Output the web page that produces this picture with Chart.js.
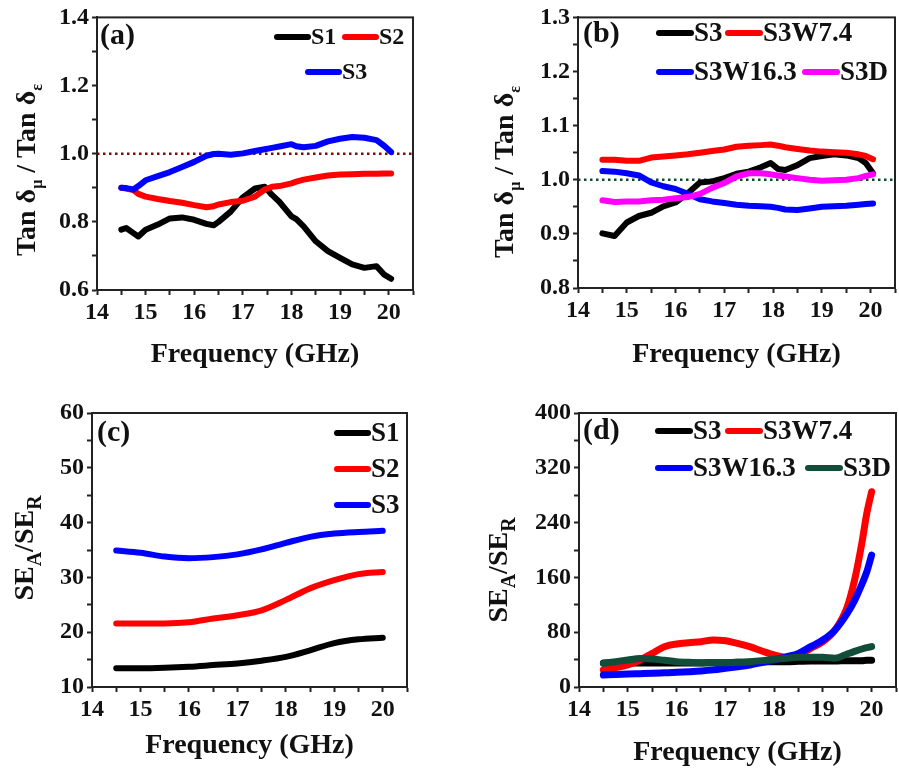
<!DOCTYPE html>
<html>
<head>
<meta charset="utf-8">
<title>Tan δμ / Tan δε y SEA/SER</title>
<script src="https://cdn.jsdelivr.net/npm/chart.js@4.4.1/dist/chart.umd.min.js"></script>
<style>
  body { margin: 0; background: #fff; }
  #figura { position: relative; width: 899px; height: 772px; }
  .panel { position: absolute; }
</style>
</head>
<body>
<div id="figura">
  <div class="panel" style="left:0;top:0"><canvas id="chartA" width="450" height="386"></canvas></div>
  <div class="panel" style="left:450px;top:0"><canvas id="chartB" width="449" height="386"></canvas></div>
  <div class="panel" style="left:0;top:386px"><canvas id="chartC" width="450" height="386"></canvas></div>
  <div class="panel" style="left:450px;top:386px"><canvas id="chartD" width="449" height="386"></canvas></div>
</div>
<script>
const fuente = "'Liberation Serif', 'Times New Roman', serif";

// (a) Tan dmu / Tan deps, muestras S1-S3
const freqA = [14.5, 14.6, 14.75, 14.85, 15.0, 15.25, 15.5, 15.75, 16.0, 16.25, 16.4, 16.5, 16.75, 17.0, 17.25, 17.45, 17.6, 17.75, 18.0, 18.1, 18.25, 18.5, 18.75, 19.0, 19.25, 19.5, 19.75, 19.9, 20.05];
const tanS1 = [0.777, 0.782, 0.767, 0.757, 0.777, 0.792, 0.810, 0.813, 0.806, 0.794, 0.790, 0.800, 0.830, 0.872, 0.898, 0.903, 0.879, 0.859, 0.816, 0.808, 0.787, 0.743, 0.714, 0.694, 0.675, 0.665, 0.670, 0.646, 0.633];
const tanS2 = [0.900, 0.898, 0.893, 0.882, 0.874, 0.867, 0.861, 0.856, 0.849, 0.843, 0.846, 0.851, 0.858, 0.862, 0.874, 0.895, 0.903, 0.905, 0.913, 0.918, 0.924, 0.930, 0.936, 0.939, 0.940, 0.941, 0.941, 0.942, 0.942];
const tanS3 = [0.900, 0.899, 0.895, 0.905, 0.922, 0.934, 0.946, 0.961, 0.976, 0.994, 0.999, 1.000, 0.997, 1.001, 1.008, 1.013, 1.017, 1.021, 1.028, 1.022, 1.019, 1.023, 1.036, 1.044, 1.049, 1.047, 1.040, 1.024, 1.005];

// (b) Tan dmu / Tan deps, S3 y variantes
const freqB = [14.5, 14.75, 15.0, 15.25, 15.5, 15.75, 16.0, 16.25, 16.5, 16.75, 17.0, 17.25, 17.5, 17.75, 17.95, 18.1, 18.25, 18.5, 18.75, 19.0, 19.25, 19.5, 19.75, 19.9, 20.05];
const tanB_S3 = [0.901, 0.896, 0.921, 0.933, 0.939, 0.951, 0.958, 0.975, 0.995, 0.997, 1.003, 1.011, 1.015, 1.023, 1.031, 1.020, 1.018, 1.027, 1.040, 1.044, 1.047, 1.045, 1.040, 1.031, 1.012];
const tanB_W74 = [1.037, 1.037, 1.035, 1.035, 1.041, 1.043, 1.045, 1.047, 1.050, 1.053, 1.056, 1.061, 1.063, 1.064, 1.065, 1.063, 1.060, 1.057, 1.054, 1.052, 1.051, 1.050, 1.047, 1.044, 1.038];
const tanB_W163 = [1.016, 1.015, 1.012, 1.008, 0.995, 0.988, 0.983, 0.974, 0.964, 0.960, 0.957, 0.954, 0.952, 0.951, 0.950, 0.948, 0.945, 0.944, 0.947, 0.950, 0.951, 0.952, 0.954, 0.955, 0.956];
const tanB_S3D = [0.962, 0.959, 0.960, 0.960, 0.962, 0.963, 0.966, 0.968, 0.974, 0.985, 0.994, 1.006, 1.012, 1.012, 1.010, 1.008, 1.006, 1.003, 1.000, 0.998, 0.999, 1.000, 1.003, 1.007, 1.010];

// (c) SEA/SER, S1-S3
const freqC = [14.5, 15.0, 15.5, 16.0, 16.5, 17.0, 17.5, 18.0, 18.5, 19.0, 19.5, 20.0];
const seS1 = [13.4, 13.4, 13.5, 13.7, 14.0, 14.3, 14.8, 15.5, 16.7, 18.0, 18.7, 19.0];
const seS2 = [21.6, 21.6, 21.6, 21.8, 22.5, 23.1, 24.0, 25.9, 28.0, 29.5, 30.6, 31.0];
const seS3 = [34.9, 34.5, 33.8, 33.5, 33.7, 34.2, 35.1, 36.3, 37.4, 38.0, 38.3, 38.5];

// (d) SEA/SER, S3 y variantes
const freqD = [14.5, 14.75, 15.0, 15.25, 15.5, 15.75, 16.0, 16.25, 16.5, 16.75, 17.0, 17.25, 17.5, 17.75, 18.0, 18.25, 18.5, 18.75, 19.0, 19.25, 19.5, 19.65, 19.8, 19.9, 20.0];
const seD_S3 = [35, 35, 35, 35, 35, 35, 35, 35, 35, 35.5, 35.5, 36, 36, 36.5, 37, 37, 37.5, 38, 38, 38, 38.5, 38.5, 38.5, 39, 39];
const seD_W74 = [24.8, 28.2, 32.1, 39.4, 49.1, 58.9, 62.8, 64.7, 66.2, 68.6, 67.6, 63.7, 58.9, 52.6, 46.7, 43.3, 46.7, 56.4, 66.2, 83.2, 117, 156, 210, 253, 285];
const seD_W163 = [17.5, 18.3, 19.0, 19.5, 20.0, 20.7, 21.4, 22.3, 23.4, 25.0, 27.2, 29.5, 32.1, 35.5, 39.4, 44.0, 49.1, 58.9, 68.6, 83.2, 107.5, 126, 150, 168, 192.7];
const seD_S3D = [34.5, 37, 39.4, 41.5, 40.9, 39, 37, 36, 35.5, 35.5, 35.5, 36, 37, 38.5, 40.4, 42, 43.3, 43.5, 43.3, 42, 48.2, 52, 55.5, 57.5, 58.9];

// linea de referencia en 1.0
const refX = [14, 20.5];
const refY = [1.0, 1.0];

const serie = (x, y) => x.map((f, i) => ({ x: f, y: y[i] }));

const curva = (label, x, y, color, i, suave, grosor) => ({
    label: label,
    data: serie(x, y),
    borderColor: color,
    backgroundColor: color,
    borderWidth: grosor || 6,
    pointRadius: 0,
    fill: false,
    tension: 0,
    cubicInterpolationMode: suave ? 'monotone' : 'default',
    borderCapStyle: 'round',
    borderJoinStyle: 'round',
    order: -i
});

const referencia = (color) => ({
    label: '',
    data: serie(refX, refY),
    borderColor: color,
    borderWidth: 2.5,
    borderDash: [2.5, 3.5],
    pointRadius: 0,
    fill: false,
    order: 10
});

const tituloY = (ctx, partes, x, y) => {
    ctx.save();
    ctx.translate(x, y);
    ctx.rotate(-Math.PI / 2);
    ctx.textAlign = 'left';
    ctx.textBaseline = 'alphabetic';
    const medir = p => {
        ctx.font = `bold ${p.size}px ${fuente}`;
        return ctx.measureText(p.t).width;
    };
    const total = partes.reduce((s, p) => s + medir(p), 0);
    let cx = -total / 2;
    partes.forEach(p => {
        const w = medir(p);
        ctx.fillText(p.t, cx, p.dy || 0);
        cx += w;
    });
    ctx.restore();
};

const decorado = {
    id: 'decorado',
    afterDraw(chart, args, opts) {
        const { ctx, chartArea: a } = chart;
        ctx.save();
        ctx.strokeStyle = '#222';
        ctx.lineWidth = 2;
        ctx.strokeRect(a.left, a.top, a.right - a.left, a.bottom - a.top);

        ctx.fillStyle = '#111';
        ctx.textAlign = 'left';
        ctx.textBaseline = 'middle';
        ctx.font = `bold 30px ${fuente}`;
        ctx.fillText(opts.etiqueta[0], opts.etiqueta[1], opts.etiqueta[2]);

        ctx.font = `bold ${opts.tamLeyenda}px ${fuente}`;
        ctx.lineCap = 'round';
        opts.leyenda.forEach(([x, y, i]) => {
            const ds = chart.data.datasets[i];
            ctx.strokeStyle = ds.borderColor;
            ctx.lineWidth = 6;
            ctx.beginPath();
            ctx.moveTo(x, y);
            ctx.lineTo(x + opts.largo, y);
            ctx.stroke();
            ctx.fillText(ds.label, x + opts.largo + 3, y + 1);
        });

        tituloY(ctx, opts.tituloY, opts.posTituloY[0], opts.posTituloY[1]);
        ctx.restore();
    }
};

const ejeY = (min, max, paso, mayor, dec, ancho) => ({
    min: min,
    max: max,
    afterFit: s => { s.width = ancho; },
    ticks: {
        stepSize: paso,
        autoSkip: false,
        padding: 3,
        color: '#111',
        font: { family: fuente, size: 24, weight: 'bold' },
        callback: v => Math.abs(v / mayor - Math.round(v / mayor)) < 1e-6 ? v.toFixed(dec) : ''
    },
    grid: { drawOnChartArea: false, tickLength: 5, tickWidth: 2, tickColor: '#222' },
    border: { width: 2, color: '#222' }
});

const ejeX = (alto, padTitulo) => ({
    type: 'linear',
    min: 14,
    max: 20.5,
    afterFit: s => { s.height = alto; },
    ticks: {
        stepSize: 0.5,
        autoSkip: false,
        maxRotation: 0,
        padding: 3,
        color: '#111',
        font: { family: fuente, size: 24, weight: 'bold' },
        callback: v => Number.isInteger(v) ? v : ''
    },
    grid: { drawOnChartArea: false, tickLength: 5, tickWidth: 2, tickColor: '#222' },
    border: { width: 2, color: '#222' },
    title: {
        display: true,
        text: 'Frequency (GHz)',
        color: '#111',
        font: { family: fuente, size: 28, weight: 'bold' },
        padding: { top: 0, bottom: padTitulo }
    }
});

const crearPanel = (id, datasets, escalas, padding, deco) => {
    const ctx = document.getElementById(id).getContext('2d');
    return new Chart(ctx, {
        type: 'line',
        data: { datasets: datasets },
        options: {
            responsive: false,
            animation: false,
            devicePixelRatio: 1,
            layout: { padding: padding },
            scales: escalas,
            plugins: {
                legend: { display: false },
                tooltip: { enabled: false },
                decorado: deco
            }
        },
        plugins: [decorado]
    });
};

const tanTitulo = [
    { t: 'Tan δ', size: 28 },
    { t: 'μ', size: 16, dy: 7 },
    { t: ' / Tan δ', size: 28 },
    { t: 'ε', size: 16, dy: 7 }
];
const seTitulo = [
    { t: 'SE', size: 28 },
    { t: 'A', size: 20, dy: 8 },
    { t: '/SE', size: 28 },
    { t: 'R', size: 20, dy: 8 }
];

crearPanel('chartA', [
    curva('S1', freqA, tanS1, '#000000', 0),
    curva('S2', freqA, tanS2, '#ff0000', 1),
    curva('S3', freqA, tanS3, '#0000ff', 2),
    referencia('#7a0c0c')
], {
    x: ejeX(96, 14),
    y: ejeY(0.6, 1.4, 0.1, 0.2, 1, 97)
}, { left: 0, top: 16, right: 37, bottom: 0 }, {
    etiqueta: ['(a)', 100, 36],
    tamLeyenda: 24,
    largo: 31,
    leyenda: [[277, 37, 0], [345, 37, 1], [308, 72, 2]],
    tituloY: tanTitulo,
    posTituloY: [35, 170]
});

crearPanel('chartB', [
    curva('S3', freqB, tanB_S3, '#000000', 0),
    curva('S3W7.4', freqB, tanB_W74, '#ff0000', 1),
    curva('S3W16.3', freqB, tanB_W163, '#0000ff', 2),
    curva('S3D', freqB, tanB_S3D, '#ff00ff', 3),
    referencia('#0e4a30')
], {
    x: ejeX(98, 14),
    y: ejeY(0.8, 1.3, 0.05, 0.1, 1, 128)
}, { left: 0, top: 15, right: 4, bottom: 0 }, {
    etiqueta: ['(b)', 133, 34],
    tamLeyenda: 27,
    largo: 32,
    leyenda: [[209, 33, 0], [278, 33, 1], [209, 72, 2], [355, 72, 3]],
    tituloY: tanTitulo,
    posTituloY: [63, 172]
});

crearPanel('chartC', [
    curva('S1', freqC, seS1, '#000000', 0, true),
    curva('S2', freqC, seS2, '#ff0000', 1, true),
    curva('S3', freqC, seS3, '#0000ff', 2, true)
], {
    x: ejeX(85, 9),
    y: ejeY(10, 60, 5, 10, 0, 92)
}, { left: 0, top: 27, right: 43, bottom: 0 }, {
    etiqueta: ['(c)', 97, 47],
    tamLeyenda: 27,
    largo: 31,
    leyenda: [[337, 47, 0], [337, 83, 1], [337, 119, 2]],
    tituloY: seTitulo,
    posTituloY: [33, 162]
});

crearPanel('chartD', [
    curva('S3', freqD, seD_S3, '#000000', 0, true, 7),
    curva('S3W7.4', freqD, seD_W74, '#ff0000', 1, true, 7),
    curva('S3W16.3', freqD, seD_W163, '#0000ff', 2, true, 7),
    curva('S3D', freqD, seD_S3D, '#124d3a', 3, true, 7)
], {
    x: ejeX(85, 2),
    y: ejeY(0, 400, 40, 80, 0, 129)
}, { left: 0, top: 27, right: 3, bottom: 0 }, {
    etiqueta: ['(d)', 133, 45],
    tamLeyenda: 27,
    largo: 32,
    leyenda: [[208, 45, 0], [278, 45, 1], [208, 82, 2], [358, 82, 3]],
    tituloY: seTitulo,
    posTituloY: [57, 184]
});
</script>
</body>
</html>
